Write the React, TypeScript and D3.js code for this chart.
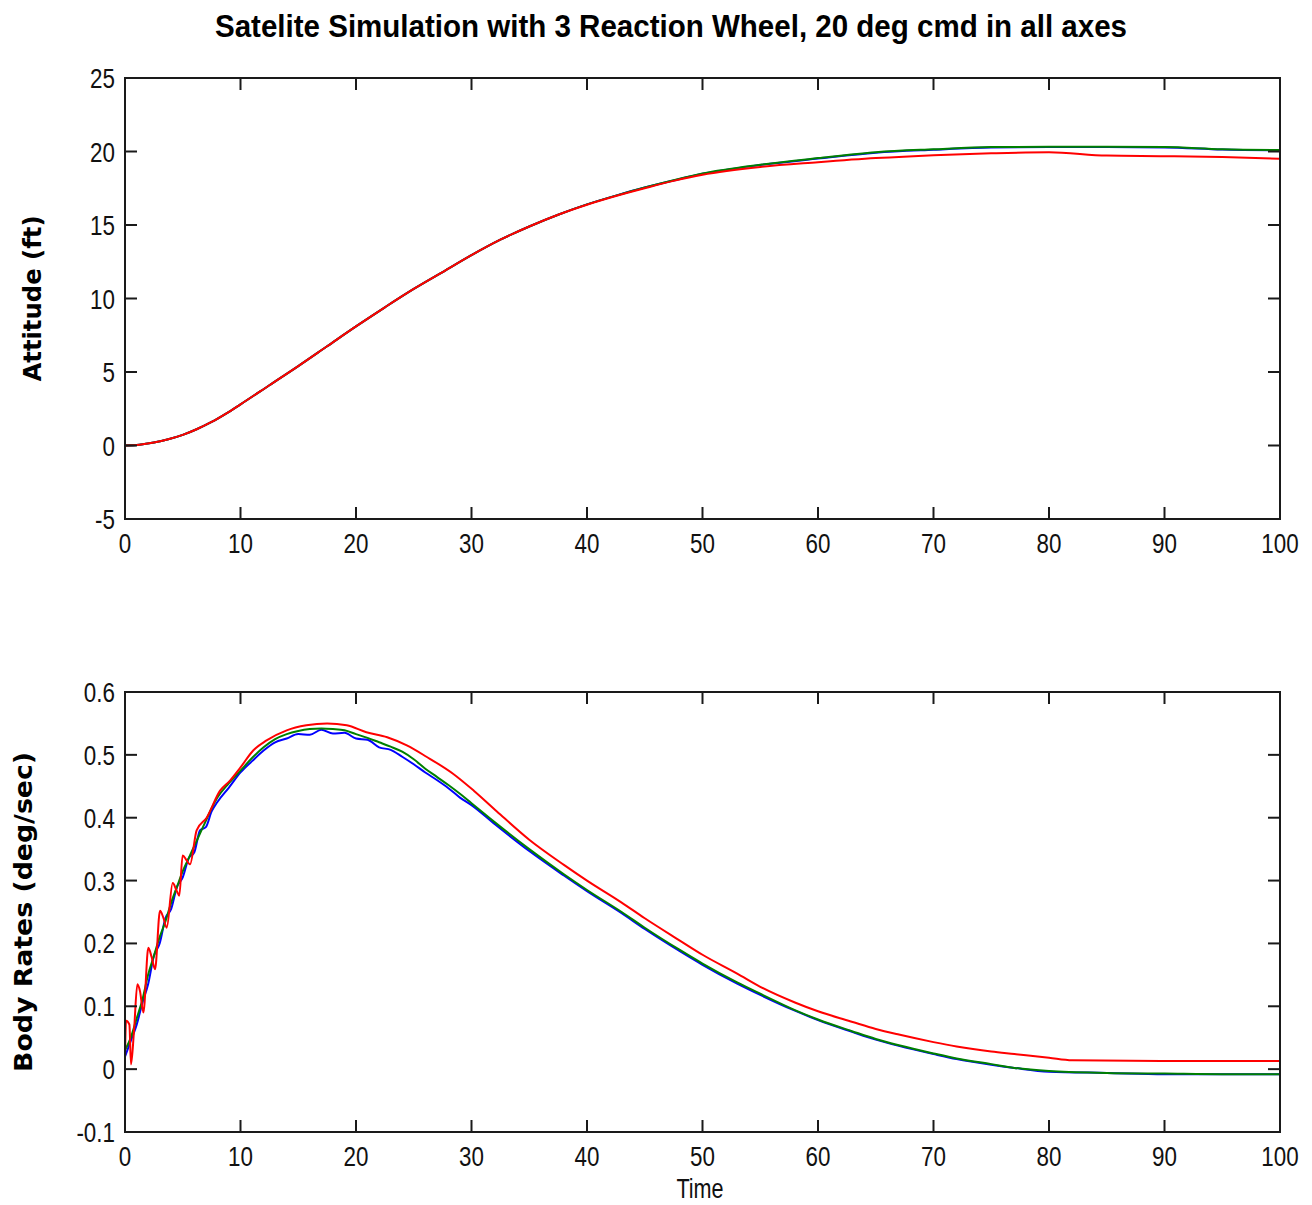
import React from "react";
import * as d3 from "d3";

const titleText = "Satelite Simulation with 3 Reaction Wheel, 20 deg cmd in all axes";
const topYLabel = "Attitude (ft)";
const botYLabel = "Body Rates (deg/sec)";
const xLabel = "Time";

const xTicks = [0, 10, 20, 30, 40, 50, 60, 70, 80, 90, 100];
const topYTicks = [-5, 0, 5, 10, 15, 20, 25];
const botYTicks = [-0.1, 0, 0.1, 0.2, 0.3, 0.4, 0.5, 0.6];
const botYTickLabels = ["-0.1", "0", "0.1", "0.2", "0.3", "0.4", "0.5", "0.6"];

// Attitude
const attT = [0, 1.25, 2.5, 3.75, 5, 6.25, 7.5, 8.75, 10, 12.5, 15, 17.5, 20, 22.5, 25, 27.5, 30, 32.5, 35, 37.5, 40, 42.5, 45, 47.5, 50, 55, 60, 65, 70, 75, 80, 85, 90, 95, 100];
const attBlue = [0, 0.05, 0.2, 0.42, 0.72, 1.12, 1.6, 2.17, 2.8, 4.1, 5.4, 6.75, 8.1, 9.4, 10.65, 11.8, 12.95, 14.0, 14.9, 15.7, 16.4, 17.0, 17.55, 18.03, 18.48, 19.08, 19.52, 19.92, 20.12, 20.27, 20.3, 20.3, 20.28, 20.13, 20.08];
const attGreen = [0, 0.05, 0.2, 0.42, 0.72, 1.12, 1.6, 2.17, 2.8, 4.1, 5.4, 6.75, 8.1, 9.4, 10.65, 11.8, 12.95, 14.0, 14.9, 15.7, 16.4, 17.0, 17.55, 18.05, 18.5, 19.1, 19.55, 19.95, 20.15, 20.3, 20.32, 20.32, 20.3, 20.15, 20.1];
const attRed = [0, 0.05, 0.2, 0.42, 0.72, 1.12, 1.6, 2.17, 2.8, 4.1, 5.4, 6.75, 8.1, 9.4, 10.65, 11.8, 12.95, 14.0, 14.9, 15.7, 16.38, 16.97, 17.5, 18.0, 18.42, 18.95, 19.27, 19.55, 19.75, 19.88, 19.95, 19.72, 19.68, 19.62, 19.5];

// Body rates
const rateGT = [0, 0.5, 1, 1.5, 2, 2.5, 3, 3.5, 4, 4.5, 5, 5.5, 6, 6.5, 7, 7.5, 8, 9, 10, 11, 12, 13, 14, 15, 16, 17, 18, 19, 20, 21, 22, 23, 24, 25, 26, 27, 28, 29, 30, 32, 35, 38, 40, 43, 45, 48, 50, 53, 55, 58, 60, 63, 65, 67, 70, 72, 75, 77, 80, 85, 90, 95, 100];
const rateGreen = [0.03, 0.05, 0.08, 0.11, 0.15, 0.18, 0.21, 0.235, 0.265, 0.29, 0.315, 0.335, 0.355, 0.375, 0.395, 0.415, 0.432, 0.455, 0.475, 0.495, 0.512, 0.525, 0.533, 0.538, 0.541, 0.542, 0.541, 0.539, 0.533, 0.527, 0.52, 0.513, 0.505, 0.493, 0.478, 0.465, 0.452, 0.438, 0.423, 0.393, 0.35, 0.31, 0.285, 0.25, 0.225, 0.19, 0.168, 0.138, 0.12, 0.094, 0.079, 0.06, 0.048, 0.038, 0.025, 0.017, 0.008, 0.002, -0.003, -0.006, -0.007, -0.008, -0.008];
const rateBlue = [0.02, 0.045, 0.07, 0.105, 0.135, 0.18, 0.2, 0.24, 0.255, 0.29, 0.305, 0.335, 0.345, 0.38, 0.385, 0.41, 0.425, 0.448, 0.472, 0.49, 0.507, 0.52, 0.526, 0.533, 0.532, 0.54, 0.534, 0.535, 0.526, 0.524, 0.512, 0.508, 0.497, 0.485, 0.472, 0.46, 0.447, 0.432, 0.42, 0.39, 0.347, 0.308, 0.283, 0.248, 0.223, 0.188, 0.166, 0.136, 0.118, 0.093, 0.078, 0.059, 0.047, 0.037, 0.024, 0.016, 0.007, 0.002, -0.004, -0.006, -0.008, -0.008, -0.008];
const rateRT = [0, 0.09, 0.38, 0.52, 0.78, 1.07, 1.3, 1.59, 2.02, 2.31, 2.6, 3.03, 3.32, 3.61, 4.13, 4.47, 4.7, 4.99, 5.34, 5.63, 6.2, 7.07, 8.23, 9.09, 10, 11.1, 12.26, 14, 15.7, 17.5, 19.2, 20.9, 22.7, 24.4, 26.1, 28.4, 30.2, 32.2, 35, 38, 40, 43, 45, 48, 50, 53, 55, 58, 60, 63, 65, 67, 70, 72, 75, 77, 80, 82, 90, 100];
const rateRed = [0.018, 0.077, 0.071, 0.0075, 0.061, 0.135, 0.124, 0.09, 0.193, 0.178, 0.159, 0.252, 0.241, 0.225, 0.296, 0.284, 0.276, 0.34, 0.332, 0.326, 0.38, 0.4, 0.443, 0.459, 0.48, 0.507, 0.523, 0.539, 0.547, 0.55, 0.547, 0.536, 0.528, 0.515, 0.497, 0.47, 0.443, 0.41, 0.365, 0.325, 0.3, 0.265, 0.24, 0.205, 0.182, 0.152, 0.131, 0.106, 0.092, 0.075, 0.064, 0.055, 0.043, 0.036, 0.028, 0.024, 0.018, 0.014, 0.013, 0.013];

const BLUE = "#0000ff";
const GREEN = "#008000";
const RED = "#ff0000";
const AX = "#1a1a1a";
const TICKFONT = "'Liberation Sans', Arial, sans-serif";

const L = 125, R = 1280;
const TICK = 12;

function zip(t: number[], v: number[]) {
  return t.map((x, i) => [x, v[i]] as [number, number]);
}

function Axes(props: {
  top: number; bottom: number; yDomain: [number, number]; yTicks: number[]; yTickLabels: string[];
  series: { t: number[]; v: number[]; color: string }[]; ylabel: string; ylabelX: number; ylabelLen: number;
}) {
  const { top, bottom, yDomain, yTicks, yTickLabels, series, ylabel, ylabelX, ylabelLen } = props;
  const x = d3.scaleLinear().domain([0, 100]).range([L, R]);
  const y = d3.scaleLinear().domain(yDomain).range([bottom, top]);
  const line = d3.line<[number, number]>().x(d => x(d[0])).y(d => y(d[1])).curve(d3.curveMonotoneX);
  const clipId = "clip" + top;
  return (
    <g>
      <defs>
        <clipPath id={clipId}>
          <rect x={L} y={top} width={R - L} height={bottom - top} />
        </clipPath>
      </defs>
      <g clipPath={`url(#${clipId})`}>
        {series.map((s, i) => (
          <path key={i} d={line(zip(s.t, s.v)) || ""} fill="none" stroke={s.color} strokeWidth={2} strokeLinejoin="round" />
        ))}
      </g>
      <rect x={L} y={top} width={R - L} height={bottom - top} fill="none" stroke={AX} strokeWidth={2} />
      {xTicks.map(t => (
        <g key={"xt" + t}>
          <line x1={x(t)} x2={x(t)} y1={bottom} y2={bottom - TICK} stroke={AX} strokeWidth={2} />
          <line x1={x(t)} x2={x(t)} y1={top} y2={top + TICK} stroke={AX} strokeWidth={2} />
          <text transform={`translate(${x(t)},${bottom + 34}) scale(0.8,1)`} textAnchor="middle" fontFamily={TICKFONT} fontSize={28} fill="#111">{t}</text>
        </g>
      ))}
      {yTicks.map((t, i) => (
        <g key={"yt" + t}>
          <line x1={L} x2={L + TICK} y1={y(t)} y2={y(t)} stroke={AX} strokeWidth={2} />
          <line x1={R} x2={R - TICK} y1={y(t)} y2={y(t)} stroke={AX} strokeWidth={2} />
          <text transform={`translate(115,${y(t) + 10}) scale(0.8,1)`} textAnchor="end" fontFamily={TICKFONT} fontSize={28} fill="#111">{yTickLabels[i]}</text>
        </g>
      ))}
      <text transform={`translate(${ylabelX},${(top + bottom) / 2}) rotate(-90)`} textAnchor="middle"
        fontFamily="'DejaVu Sans', Verdana, sans-serif" fontWeight="bold" fontSize={24}
        textLength={ylabelLen} lengthAdjust="spacingAndGlyphs" fill="#000">{ylabel}</text>
    </g>
  );
}

export default function App() {
  return (
    <svg width={1312} height={1205} style={{ position: "absolute", left: 0, top: 0, background: "#fff" }}>
      <rect x={0} y={0} width={1312} height={1205} fill="#fff" />
      <text x={215} y={37} fontFamily="'Liberation Sans', Arial, sans-serif" fontWeight="bold" fontSize={32}
        textLength={912} lengthAdjust="spacingAndGlyphs" fill="#000">{titleText}</text>
      <Axes top={78} bottom={519} yDomain={[-5, 25]} yTicks={topYTicks} yTickLabels={topYTicks.map(String)}
        series={[{ t: attT, v: attBlue, color: BLUE }, { t: attT, v: attGreen, color: GREEN }, { t: attT, v: attRed, color: RED }]}
        ylabel={topYLabel} ylabelX={41} ylabelLen={166} />
      <Axes top={692} bottom={1132} yDomain={[-0.1, 0.6]} yTicks={botYTicks} yTickLabels={botYTickLabels}
        series={[{ t: rateGT, v: rateBlue, color: BLUE }, { t: rateGT, v: rateGreen, color: GREEN }, { t: rateRT, v: rateRed, color: RED }]}
        ylabel={botYLabel} ylabelX={32} ylabelLen={320} />
      <text transform={`translate(700,1198) scale(0.8,1)`} textAnchor="middle" fontFamily={TICKFONT} fontSize={27} fill="#111">{xLabel}</text>
    </svg>
  );
}
